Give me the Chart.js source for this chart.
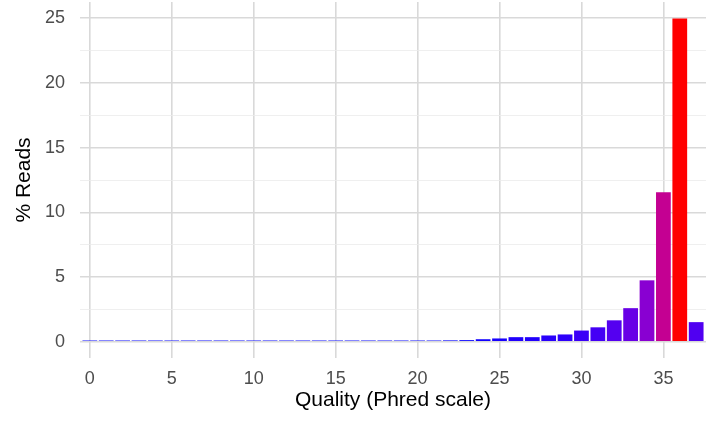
<!DOCTYPE html>
<html>
<head>
<meta charset="utf-8">
<script src="https://cdn.jsdelivr.net/npm/chart.js@4"></script>
<style>
  body { margin: 0; background: #fff; }
</style>
</head>
<body>
<canvas id="qualityChart" width="712" height="424"></canvas>
<script>
const quality = [0, 1, 2, 3, 4, 5, 6, 7, 8, 9, 10, 11, 12, 13, 14, 15, 16, 17, 18, 19,
  20, 21, 22, 23, 24, 25, 26, 27, 28, 29, 30, 31, 32, 33, 34, 35, 36, 37];
const percentReads = [0.1, 0.1, 0.1, 0.1, 0.1, 0.1, 0.1, 0.1, 0.1, 0.1,
  0.1, 0.1, 0.1, 0.1, 0.1, 0.1, 0.1, 0.1, 0.1, 0.1,
  0.1, 0.1, 0.11, 0.13, 0.2, 0.26, 0.36, 0.36, 0.49, 0.57,
  0.87, 1.12, 1.66, 2.6, 4.75, 11.55, 24.98, 1.52];
const xTicks = [0, 5, 10, 15, 20, 25, 30, 35];
const yTicks = [0, 2.5, 5, 7.5, 10, 12.5, 15, 17.5, 20, 22.5, 25];

const font = '"Liberation Sans", Arial, sans-serif';

// ggplot-like gradient: blue -> red, interpolated in Lab
const toLin = (c) => (c <= 0.04045 ? c / 12.92 : Math.pow((c + 0.055) / 1.055, 2.4));
const fromLin = (c) => (c <= 0.0031308 ? 12.92 * c : 1.055 * Math.pow(c, 1 / 2.4) - 0.055);
const labF = (t) => (t > 0.008856 ? Math.cbrt(t) : 7.787 * t + 16 / 116);
const labFi = (t) => (t * t * t > 0.008856 ? t * t * t : (t - 16 / 116) / 7.787);

function rgbToLab(rgb) {
  const [r, g, b] = rgb.map((c) => toLin(c / 255));
  const x = (0.4124564 * r + 0.3575761 * g + 0.1804375 * b) / 0.95047;
  const y = 0.2126729 * r + 0.7151522 * g + 0.0721750 * b;
  const z = (0.0193339 * r + 0.1191920 * g + 0.9503041 * b) / 1.08883;
  const fx = labF(x), fy = labF(y), fz = labF(z);
  return [116 * fy - 16, 500 * (fx - fy), 200 * (fy - fz)];
}

function labToRgb([L, a, bb]) {
  const fy = (L + 16) / 116;
  const fx = fy + a / 500;
  const fz = fy - bb / 200;
  const x = 0.95047 * labFi(fx), y = labFi(fy), z = 1.08883 * labFi(fz);
  const r = 3.2404542 * x - 1.5371385 * y - 0.4985314 * z;
  const g = -0.9692660 * x + 1.8760108 * y + 0.0415560 * z;
  const b = 0.0556434 * x - 0.2040259 * y + 1.0572252 * z;
  return [r, g, b].map((c) => Math.round(Math.min(1, Math.max(0, fromLin(c))) * 255));
}

const lowLab = rgbToLab([0, 0, 255]);
const highLab = rgbToLab([255, 0, 0]);
const vMin = Math.min(...percentReads);
const vMax = Math.max(...percentReads);

function fillFor(v) {
  const t = (v - vMin) / (vMax - vMin);
  const lab = lowLab.map((c, i) => c + (highLab[i] - c) * t);
  const [r, g, b] = labToRgb(lab);
  return `rgb(${r},${g},${b})`;
}

const ctx = document.getElementById('qualityChart').getContext('2d');

const qualityChart = new Chart(ctx, {
  type: 'bar',
  data: {
    datasets: [{
      label: '% Reads',
      data: quality.map((q, i) => ({ x: q, y: percentReads[i] })),
      backgroundColor: percentReads.map(fillFor),
      borderWidth: 0,
      barPercentage: 0.9,
      categoryPercentage: 1.0,
    }],
  },
  options: {
    responsive: false,
    animation: false,
    layout: { padding: { top: 2, right: 6, left: 0, bottom: 0 } },
    plugins: {
      legend: { display: false },
      tooltip: { enabled: false },
    },
    scales: {
      x: {
        type: 'linear',
        offset: false,
        min: -0.6,
        max: 37.6,
        afterBuildTicks: (scale) => { scale.ticks = xTicks.map((v) => ({ value: v })); },
        afterFit: (scale) => {
          scale.height = 66;
          scale.paddingLeft = 0;
          scale.paddingRight = 0;
        },
        grid: { color: '#d9d9d9', lineWidth: 1.6, drawTicks: false, offset: false },
        border: { display: false },
        ticks: {
          color: '#4d4d4d',
          font: { family: font, size: 18 },
          padding: 10,
          maxRotation: 0,
        },
        title: {
          display: true,
          text: 'Quality (Phred scale)',
          color: '#000',
          font: { family: font, size: 21 },
          padding: { top: 0, bottom: 11 },
        },
      },
      y: {
        min: -1.25,
        max: 26.25,
        afterBuildTicks: (scale) => { scale.ticks = yTicks.map((v) => ({ value: v })); },
        afterFit: (scale) => {
          scale.width = 80;
          scale.paddingTop = 0;
          scale.paddingBottom = 0;
        },
        grid: {
          color: (c) => (c.tick && c.tick.value % 5 === 0 ? '#d9d9d9' : '#ebebeb'),
          lineWidth: (c) => (c.tick && c.tick.value % 5 === 0 ? 1.6 : 0.8),
          drawTicks: false,
        },
        border: { display: false },
        ticks: {
          color: '#4d4d4d',
          font: { family: font, size: 18 },
          padding: 15,
          callback: (v) => (v % 5 === 0 ? v : ''),
        },
        title: {
          display: true,
          text: '% Reads',
          color: '#000',
          font: { family: font, size: 21 },
          padding: { top: 12, bottom: 0 },
        },
      },
    },
  },
});
</script>
</body>
</html>
